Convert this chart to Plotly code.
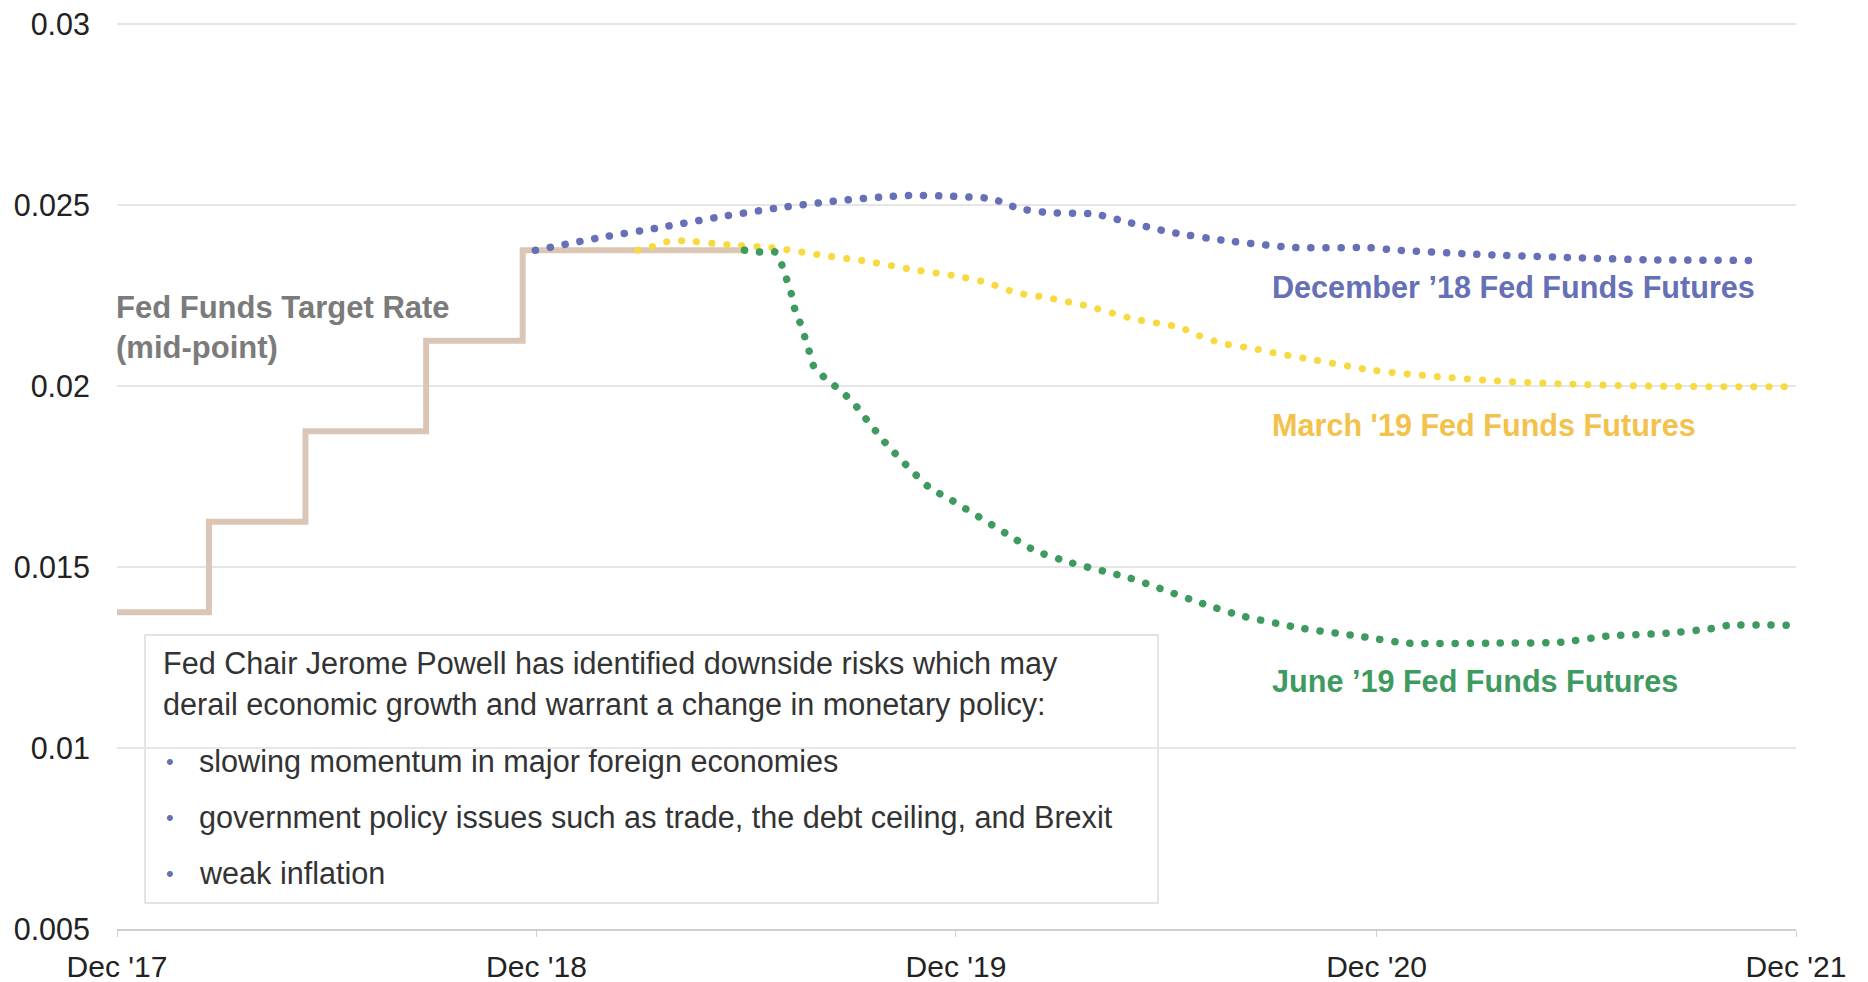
import plotly.graph_objects as go

FONT = "Liberation Sans, Arial, sans-serif"

# Fed Funds target rate (mid-point), step series
target_dates = ["2018-01-01", "2018-03-22", "2018-06-14", "2018-09-27", "2018-12-20", "2019-07-01"]
target_vals = [0.01375, 0.01625, 0.01875, 0.02125, 0.02375, 0.02375]

# December '18 Fed Funds Futures
dec18_dates = ["2018-12-31", "2019-02-25", "2019-04-15", "2019-06-07", "2019-07-30", "2019-09-21",
               "2019-10-31", "2019-11-26", "2019-12-23", "2020-01-31", "2020-02-12", "2020-02-24",
               "2020-03-22", "2020-05-01", "2020-05-28", "2020-07-06", "2020-08-22", "2020-10-20",
               "2020-12-26", "2021-01-21", "2021-03-29", "2021-06-29", "2021-08-23", "2021-11-23"]
dec18_vals = [0.02375, 0.02410, 0.02436, 0.02466, 0.02492, 0.02512,
              0.02523, 0.02527, 0.02525, 0.02518, 0.02506, 0.02491,
              0.02479, 0.02475, 0.02454, 0.02425, 0.02402, 0.02383,
              0.02382, 0.02375, 0.02364, 0.02354, 0.02349, 0.02347]

# March '19 Fed Funds Futures
mar19_dates = ["2019-03-30", "2019-04-13", "2019-04-26", "2019-05-10", "2019-06-17", "2019-07-28",
               "2019-09-07", "2019-10-15", "2019-11-24", "2020-01-01", "2020-01-28", "2020-02-22",
               "2020-03-19", "2020-04-27", "2020-06-04", "2020-07-14", "2020-07-30", "2020-08-21",
               "2020-09-17", "2020-09-30", "2020-11-08", "2020-12-30", "2021-02-23", "2021-04-16",
               "2021-06-21", "2021-09-11", "2021-12-25"]
mar19_vals = [0.02375, 0.02386, 0.02400, 0.02401, 0.02390, 0.02381,
              0.02361, 0.02345, 0.02322, 0.02304, 0.02286, 0.02258,
              0.02245, 0.02219, 0.02185, 0.02162, 0.02140, 0.02117,
              0.02103, 0.02094, 0.02072, 0.02043, 0.02026, 0.02014,
              0.02005, 0.01999, 0.01998]

# June '19 Fed Funds Futures
jun19_dates = ["2019-07-01", "2019-07-16", "2019-07-28", "2019-08-03", "2019-08-07", "2019-08-11",
               "2019-08-14", "2019-08-19", "2019-08-23", "2019-08-27", "2019-08-31", "2019-09-10",
               "2019-09-20", "2019-09-30", "2019-10-09", "2019-10-17", "2019-10-25", "2019-11-02",
               "2019-12-08", "2019-12-29", "2020-02-18", "2020-03-10", "2020-04-10", "2020-06-01",
               "2020-07-30", "2020-09-06", "2020-10-28", "2020-12-21", "2021-01-27", "2021-04-15",
               "2021-06-10", "2021-07-20", "2021-09-10", "2021-10-22", "2021-11-03", "2021-12-26"]
jun19_vals = [0.02375, 0.02370, 0.02370, 0.02331, 0.02292, 0.02252,
              0.02210, 0.02170, 0.02130, 0.02089, 0.02049, 0.02020,
              0.01994, 0.01966, 0.01934, 0.01900, 0.01869, 0.01838,
              0.01722, 0.01683, 0.01584, 0.01545, 0.01512, 0.01469,
              0.01403, 0.01365, 0.01331, 0.01307, 0.01290, 0.01290,
              0.01292, 0.01309, 0.01317, 0.01331, 0.01339, 0.01339]

x_tickvals = ["2018-01-01", "2019-01-01", "2020-01-01", "2021-01-01", "2022-01-01"]
x_ticktext = ["Dec '17", "Dec '18", "Dec '19", "Dec '20", "Dec '21"]
y_tickvals = [0.005, 0.01, 0.015, 0.02, 0.025, 0.03]
y_ticktext = ["0.005", "0.01", "0.015", "0.02", "0.025", "0.03"]

BLUE = "#6570b6"
YELLOW = "#f7d940"
YELLOW_TXT = "#f3c24c"
GREEN = "#3f9a60"
BEIGE = "#dbc6b6"
GRAY_TXT = "#7b7b7b"

fig = go.Figure()

fig.add_trace(go.Scatter(x=target_dates, y=target_vals, mode="lines",
                         line=dict(color=BEIGE, width=6, shape="hv"), hoverinfo="skip"))
dot = "0.1px,15px"
fig.add_trace(go.Scatter(x=mar19_dates, y=mar19_vals, mode="lines",
                         line=dict(color=YELLOW, width=7, dash=dot, shape="spline", smoothing=0.6)))
fig.add_trace(go.Scatter(x=jun19_dates, y=jun19_vals, mode="lines",
                         line=dict(color=GREEN, width=7.5, dash=dot, shape="spline", smoothing=0.6)))
fig.add_trace(go.Scatter(x=dec18_dates, y=dec18_vals, mode="lines",
                         line=dict(color=BLUE, width=7.5, dash=dot, shape="spline", smoothing=0.6)))

# Text box
fig.add_shape(type="rect", xref="paper", yref="paper", x0=0.0167, x1=0.62, y0=0.0287, y1=0.3244,
              line=dict(color="#dcdcdc", width=1.5), fillcolor="white", layer="between")

annos = []
def add_text(x, y, text, color, size=30, bold=False, xanchor="left"):
    annos.append(dict(xref="paper", yref="paper", x=x, y=y, text=(f"<b>{text}</b>" if bold else text),
                      showarrow=False, xanchor=xanchor, yanchor="middle", align="left",
                      font=dict(family=FONT, size=size, color=color)))

BOX_FS = 30.6
add_text(0.026, 0.2928, "Fed Chair Jerome Powell has identified downside risks which may", "#333333", BOX_FS)
add_text(0.026, 0.2482, "derail economic growth and warrant a change in monetary policy:", "#333333", BOX_FS)
bullets = ["slowing momentum in major foreign economies",
           "government policy issues such as trade, the debt ceiling, and Brexit",
           "weak inflation"]
for yy, b in zip([0.1853, 0.1236, 0.0618], bullets):
    add_text(0.0316, yy, "•", BLUE, 22, xanchor="center")
    add_text(0.0475, yy, b, "#333333", BOX_FS)

add_text(0.6867, 0.7083, "December ’18 Fed Funds Futures", BLUE, 30.6, bold=True)
add_text(0.6867, 0.556, "March '19 Fed Funds Futures", YELLOW_TXT, 30.6, bold=True)
add_text(0.6867, 0.2736, "June ’19 Fed Funds Futures", GREEN, 30.6, bold=True)
add_text(-0.002, 0.6635, "Fed Funds Target Rate<br>(mid-point)", GRAY_TXT, 31, bold=True)

fig.update_layout(
    width=1868, height=982,
    margin=dict(l=117, r=72, t=23, b=53, autoexpand=False),
    paper_bgcolor="white", plot_bgcolor="white",
    showlegend=False,
    font=dict(family=FONT, size=30, color="#222222"),
    annotations=annos,
    xaxis=dict(type="date", range=["2018-01-01", "2022-01-01"], tickvals=x_tickvals, ticktext=x_ticktext,
               showgrid=False, showline=True, linecolor="#cfcfcf", linewidth=2,
               ticks="outside", ticklen=6, tickcolor="#cfcfcf", tickwidth=1, ticklabelstandoff=4,
               ticklabeloverflow="allow",
               tickfont=dict(size=30, color="#222222"), zeroline=False, automargin=False),
    yaxis=dict(range=[0.005, 0.03003], tickvals=y_tickvals, ticktext=y_ticktext,
               showgrid=True, gridcolor="#e6e6e6", gridwidth=2, zeroline=False, showline=False,
               ticklabelstandoff=26, ticklabeloverflow="allow",
               tickfont=dict(size=30.5, color="#222222"), automargin=False),
)

js = ("document.body.style.margin='0';"
      "var s=document.createElement('style');"
      "s.textContent='body{margin:0;} .scatterlayer .trace:not(:first-child) path.js-line{stroke-linecap:round;}';"
      "document.head.appendChild(s);")
fig.write_html("out.html", post_script=js, config={"displayModeBar": False})
